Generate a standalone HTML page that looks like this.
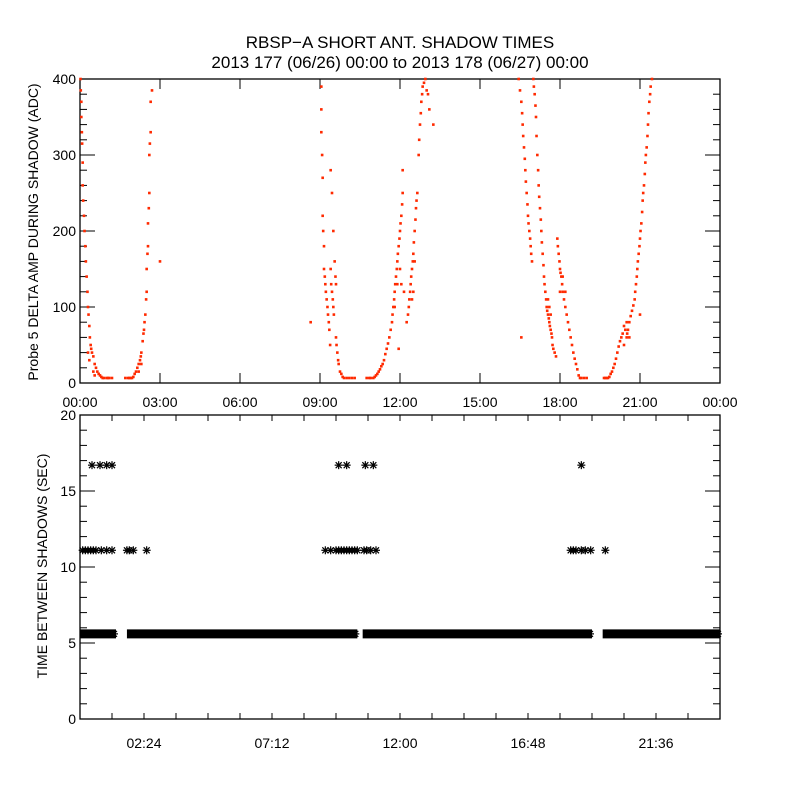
<!DOCTYPE html>
<html><head><meta charset="utf-8"><style>
body{margin:0;background:#fff}
svg{display:block;font-family:"Liberation Sans",sans-serif}
</style></head><body>
<svg id="chart" width="800" height="800" viewBox="0 0 800 800">
<rect width="800" height="800" fill="#fff"/>
<text x="400" y="48" font-size="17" text-anchor="middle">RBSP−A SHORT ANT. SHADOW TIMES</text>
<text x="400" y="68" font-size="17" text-anchor="middle">2013 177 (06/26) 00:00 to 2013 178 (06/27) 00:00</text>
<g id="p1"></g>
<g id="p2"></g>
<text transform="translate(38,232) rotate(-90)" font-size="14" text-anchor="middle">Probe 5 DELTA AMP DURING SHADOW (ADC)</text>
<text transform="translate(47,566) rotate(-90)" font-size="14" text-anchor="middle">TIME BETWEEN SHADOWS (SEC)</text>
</svg>
<script>
// Top panel data: [hour, ADC]
const ampPoints = [
[0.02,400],[0.03,385],[0.05,370],[0.05,350],[0.07,330],[0.08,315],[0.1,290],[0.1,260],[0.12,240],[0.15,220],[0.17,200],[0.2,180],[0.22,160],[0.25,140],[0.28,120],[0.3,100],[0.32,90],[0.35,75],[0.37,60],[0.4,50],[0.42,45],[0.45,40],[0.5,35],[0.55,25],[0.6,20],[0.65,15],[0.7,12],[0.75,10],[0.8,8],[0.85,6],[0.9,5],[1.0,3],[1.05,4],[1.1,2],[1.2,2],[0.5,15],[0.55,10],[0.3,40],[0.35,30],
[1.7,1],[1.8,2],[1.85,3],[1.9,4],[1.95,6],[2.0,8],[2.05,12],[2.1,15],[2.15,20],[2.2,25],[2.25,30],[2.28,35],[2.3,40],[2.35,55],[2.38,65],[2.4,70],[2.42,80],[2.45,90],[2.48,110],[2.5,120],[2.5,150],[2.53,170],[2.55,180],[2.55,210],[2.58,230],[2.6,250],[2.6,300],[2.62,315],[2.65,330],[2.65,370],[2.7,385],[3.0,160],[2.2,15],[2.3,25],
[8.65,80],[9.05,390],[9.05,360],[9.05,330],[9.08,300],[9.1,270],[9.1,220],[9.12,200],[9.15,180],[9.15,150],[9.18,140],[9.2,130],[9.22,120],[9.25,110],[9.28,100],[9.3,90],[9.33,80],[9.35,70],[9.38,50],[9.4,150],[9.42,130],[9.45,120],[9.48,110],[9.5,200],[9.5,100],[9.52,90],[9.55,160],[9.58,140],[9.6,130],[9.6,60],[9.62,50],[9.65,40],[9.68,30],[9.7,25],[9.75,15],[9.8,12],[9.85,8],[9.9,6],[10.0,3],[10.1,2],[10.2,3],[10.3,5],[9.45,250],[9.4,280],
[10.75,1],[10.85,2],[10.9,3],[11.0,6],[11.05,8],[11.1,10],[11.15,12],[11.2,15],[11.25,18],[11.3,22],[11.35,25],[11.4,30],[11.45,38],[11.5,45],[11.55,52],[11.6,60],[11.65,70],[11.7,80],[11.72,90],[11.75,100],[11.78,110],[11.8,120],[11.82,130],[11.85,140],[11.88,150],[11.9,160],[11.92,170],[11.95,180],[11.98,190],[12.0,200],[12.02,210],[12.05,220],[12.08,235],[12.1,250],[12.1,280],[12.0,150],[12.05,130],[12.15,120],[11.9,130],[11.8,100],
[12.25,80],[12.3,90],[12.33,100],[12.35,110],[12.38,120],[12.4,130],[12.42,140],[12.45,150],[12.48,160],[12.5,170],[12.52,185],[12.55,200],[12.58,215],[12.6,230],[12.62,240],[12.65,250],[12.5,120],[12.45,110],[12.55,160],[11.95,45],
[12.7,300],[12.72,320],[12.75,340],[12.78,355],[12.8,370],[12.83,380],[12.85,390],[12.9,395],[12.95,400],[13.0,385],[13.05,380],[13.1,360],[13.25,340],
[16.45,400],[16.5,385],[16.55,370],[16.58,355],[16.6,340],[16.62,325],[16.65,310],[16.68,295],[16.7,280],[16.72,265],[16.75,250],[16.78,235],[16.8,220],[16.82,210],[16.85,200],[16.88,190],[16.9,180],[16.92,170],[16.95,160],[16.55,60],
[17.0,400],[17.02,390],[17.05,380],[17.08,365],[17.1,350],[17.12,325],[17.15,300],[17.18,280],[17.2,260],[17.22,245],[17.25,230],[17.28,215],[17.3,200],[17.32,185],[17.35,170],[17.38,155],[17.4,140],[17.42,130],[17.45,120],[17.48,110],[17.5,100],[17.52,95],[17.55,90],[17.58,85],[17.6,80],[17.62,75],[17.65,70],[17.68,65],[17.7,60],[17.72,50],[17.75,45],[17.8,40],[17.85,35],[17.55,110],[17.6,100],[17.65,90],
[17.9,190],[17.92,180],[17.95,170],[17.98,160],[18.0,150],[18.02,145],[18.05,140],[18.08,130],[18.1,120],[18.15,110],[18.2,100],[18.25,90],[18.3,80],[18.35,70],[18.4,60],[18.45,50],[18.5,40],[18.55,32],[18.6,25],[18.65,18],[18.7,10],[18.75,5],[18.8,2],[18.9,1],[19.0,1],[18.0,120],[18.1,140],[18.2,120],
[19.65,0],[19.7,2],[19.75,3],[19.8,5],[19.85,8],[19.9,12],[19.95,15],[20.0,20],[20.05,25],[20.1,32],[20.15,40],[20.2,48],[20.25,55],[20.3,60],[20.35,65],[20.4,75],[20.45,70],[20.5,60],[20.52,65],[20.55,70],[20.6,80],[20.65,88],[20.7,95],[20.75,102],[20.8,110],[20.82,120],[20.85,130],[20.88,140],[20.9,150],[20.92,160],[20.95,170],[20.98,180],[21.0,190],[21.02,200],[21.05,210],[21.08,225],[21.1,240],[21.12,250],[21.15,260],[21.18,275],[21.2,290],[21.22,300],[21.25,310],[21.28,325],[21.3,340],[21.32,355],[21.35,370],[21.38,380],[21.4,390],[21.45,400],[21.0,90],[20.4,50],[20.5,80],[20.6,60]
];
const ampTicks = ["00:00","03:00","06:00","09:00","12:00","15:00","18:00","21:00","00:00"];
const ampYTicks = [0,100,200,300,400];
// Bottom panel data
const bandSegments = [[0,1.35],[1.76,10.4],[10.6,19.2],[19.6,24]];
const bandValue = 5.6;
const elevenHours = [0.1,0.2,0.3,0.4,0.5,0.6,0.8,1.0,1.2,1.76,1.85,2.0,2.5,9.2,9.4,9.6,9.7,9.8,9.9,10.0,10.1,10.2,10.3,10.4,10.65,10.75,10.9,11.1,18.4,18.5,18.6,18.8,18.95,19.15,19.7];
const elevenValue = 11.1;
const sixteenHours = [0.45,0.75,1.0,1.2,9.7,10.0,10.7,11.0,18.8];
const sixteenValue = 16.7;
const intTicks = ["02:24","07:12","12:00","16:48","21:36"];
const intYTicks = [0,5,10,15,20];

const NS="http://www.w3.org/2000/svg";
function mk(parent,tag,attrs){const e=document.createElementNS(NS,tag);for(const k in attrs)e.setAttribute(k,attrs[k]);parent.appendChild(e);return e;}
const X0=80,X1=720;
const xh=h=>X0+h/24*(X1-X0);
// Panel 1
const p1=document.getElementById('p1');
const T1=79,B1=383;
const y1=v=>B1-v/400*(B1-T1);
let f=mk(p1,'rect',{x:X0,y:T1,width:X1-X0,height:B1-T1,fill:'none',stroke:'#000','stroke-width':1.3});


for(let i=0;i<ampTicks.length;i++){
  const x=xh(i*3);
  mk(p1,'line',{x1:x,y1:B1,x2:x,y2:B1-10,stroke:'#000'});
  mk(p1,'line',{x1:x,y1:T1,x2:x,y2:T1+10,stroke:'#000'});
  const t=mk(p1,'text',{x:x,y:407,'font-size':14,'text-anchor':'middle'});
  t.textContent=ampTicks[i];
  
  
}
for(let v=0;v<=400;v+=20){
  const major=v%100===0, L=major?15:7, y=y1(v);
  mk(p1,'line',{x1:X0,y1:y,x2:X0+L,y2:y,stroke:'#000'});
  mk(p1,'line',{x1:X1,y1:y,x2:X1-L,y2:y,stroke:'#000'});
}
ampYTicks.forEach(v=>{
  const t=mk(p1,'text',{x:76,y:y1(v)+5,'font-size':14,'text-anchor':'end'});
  t.textContent=v;
  
  
});
ampPoints.forEach(p=>{
  const r=mk(p1,'rect',{x:xh(p[0])-1.3,y:Math.min(y1(p[1]),B1-5)-1.3,width:2.6,height:2.6,fill:'#ff2a00'});
  
  
});
// Panel 2
const p2=document.getElementById('p2');
const T2=415,B2=719;
const y2=v=>B2-v/20*(B2-T2);
f=mk(p2,'rect',{x:X0,y:T2,width:X1-X0,height:B2-T2,fill:'none',stroke:'#000','stroke-width':1.3});


for(let i=1;i<20;i++){
  const x=xh(i*1.2);
  mk(p2,'line',{x1:x,y1:B2,x2:x,y2:B2-6,stroke:'#000'});
  mk(p2,'line',{x1:x,y1:T2,x2:x,y2:T2+6,stroke:'#000'});
}
intTicks.forEach((s,i)=>{
  const t=mk(p2,'text',{x:xh(2.4+4.8*i),y:748,'font-size':14,'text-anchor':'middle'});
  t.textContent=s;
  
  
});
for(let v=0;v<=20;v+=1){
  const major=v%5===0, L=major?15:7, y=y2(v);
  mk(p2,'line',{x1:X0,y1:y,x2:X0+L,y2:y,stroke:'#000'});
  mk(p2,'line',{x1:X1,y1:y,x2:X1-L,y2:y,stroke:'#000'});
}
intYTicks.forEach(v=>{
  const t=mk(p2,'text',{x:76,y:y2(v)+5,'font-size':14,'text-anchor':'end'});
  t.textContent=v;
  
  
});
function star(x,y){
  const g=mk(p2,'g',{stroke:'#000','stroke-width':1.2});
  
  
  mk(g,'line',{x1:x-4,y1:y,x2:x+4,y2:y});
  mk(g,'line',{x1:x,y1:y-4,x2:x,y2:y+4});
  mk(g,'line',{x1:x-3,y1:y-3,x2:x+3,y2:y+3});
  mk(g,'line',{x1:x-3,y1:y+3,x2:x+3,y2:y-3});
}
bandSegments.forEach(s=>{
  const a=Math.max(xh(s[0]),X0), b=Math.min(xh(s[1]),X1);
  const r=mk(p2,'rect',{x:a,y:y2(bandValue)-4.5,width:b-a,height:9,fill:'#000'});
  
  
  star(b-2,y2(bandValue));
});
elevenHours.forEach(h=>star(xh(h),y2(elevenValue)));
sixteenHours.forEach(h=>star(xh(h),y2(sixteenValue)));
</script>
</body></html>
